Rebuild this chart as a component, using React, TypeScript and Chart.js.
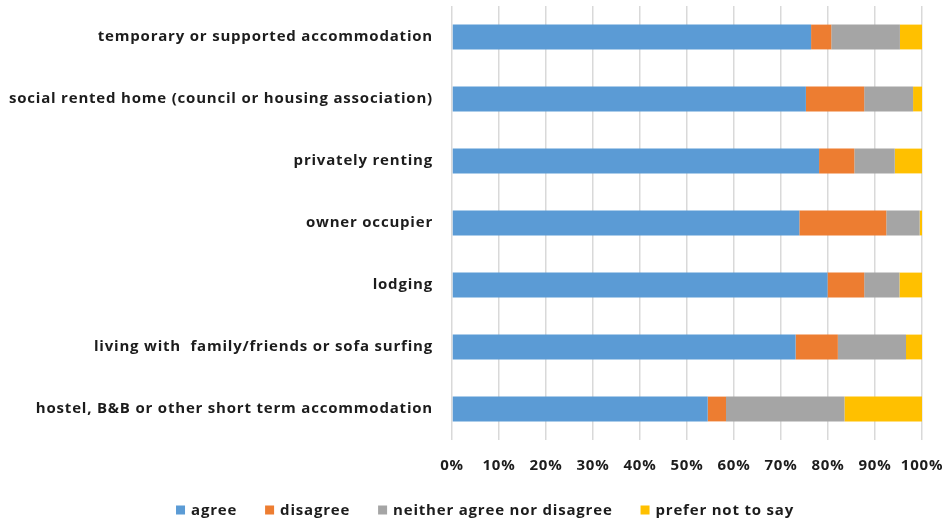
import React, { useEffect, useRef } from "react";
import { Chart, registerables } from "chart.js";

Chart.register(...registerables);

const categories = [
  "temporary or supported accommodation",
  "social rented home (council or housing association)",
  "privately renting",
  "owner occupier",
  "lodging",
  "living with  family/friends or sofa surfing",
  "hostel, B&B or other short term accommodation",
];

const agree = [76.4, 75.3, 78.1, 73.9, 79.9, 73.1, 54.4];
const disagree = [4.3, 12.4, 7.5, 18.5, 7.8, 9.0, 3.9];
const neither = [14.6, 10.4, 8.6, 7.1, 7.5, 14.5, 25.2];
const preferNot = [4.7, 1.9, 5.8, 0.5, 4.8, 3.4, 16.5];

const seriesLabels = ["agree", "disagree", "neither agree nor disagree", "prefer not to say"];
const seriesColors = ["#5B9BD5", "#ED7D31", "#A5A5A5", "#FFC000"];

const FONT_FAMILY = "'Open Sans', Lato, sans-serif";
const FONT_SIZE = 15;
const LETTER_SPACING = "0.8px";
const TEXT_COLOR = "#1c1c1c";

const spacingPlugin = {
  id: "letterSpacing",
  beforeDraw(chart: any) {
    (chart.ctx as any).letterSpacing = LETTER_SPACING;
  },
};

const legendPlugin = {
  id: "customLegend",
  afterDraw(chart: any) {
    const ctx = chart.ctx as CanvasRenderingContext2D;
    ctx.save();
    (ctx as any).letterSpacing = LETTER_SPACING;
    ctx.font = `bold ${FONT_SIZE}px ${FONT_FAMILY}`;
    ctx.textBaseline = "middle";
    ctx.textAlign = "left";
    const box = 9;
    const boxGap = 6;
    const itemGap = 28;
    const items = chart.data.datasets.map((d: any) => ({
      label: d.label as string,
      color: d.backgroundColor as string,
      w: box + boxGap + ctx.measureText(d.label).width,
    }));
    const total = items.reduce((s: number, it: any) => s + it.w, 0) + itemGap * (items.length - 1);
    let x = 485 - total / 2;
    const cy = 510;
    for (const it of items) {
      ctx.fillStyle = it.color;
      ctx.fillRect(x, cy - box / 2, box, box);
      ctx.fillStyle = TEXT_COLOR;
      ctx.fillText(it.label, x + box + boxGap, cy + 1);
      x += it.w + itemGap;
    }
    ctx.restore();
  },
};

export default function App() {
  const ref = useRef<HTMLCanvasElement | null>(null);

  useEffect(() => {
    document.body.style.margin = "0";
    const canvas = ref.current;
    if (!canvas) return;
    const values = [agree, disagree, neither, preferNot];
    const chart = new Chart(canvas, {
      type: "bar",
      data: {
        labels: categories,
        datasets: values.map((v, i) => ({
          label: seriesLabels[i],
          data: v,
          backgroundColor: seriesColors[i],
          borderWidth: 0,
          categoryPercentage: 0.4,
          barPercentage: 1,
        })),
      },
      options: {
        indexAxis: "y",
        animation: false,
        responsive: false,
        layout: { padding: { top: 6, right: 23, left: 0, bottom: 0 } },
        plugins: {
          legend: { display: false },
          tooltip: { enabled: false },
        },
        scales: {
          x: {
            stacked: true,
            min: 0,
            max: 100,
            ticks: {
              stepSize: 10,
              padding: 17,
              color: TEXT_COLOR,
              font: { family: FONT_FAMILY, size: FONT_SIZE, weight: "bold" },
              callback: (v: any) => `${v}%`,
            },
            grid: { color: "#d9d9d9", lineWidth: 1.5, drawTicks: false },
            border: { display: false },
            afterFit: (s: any) => {
              s.height = 82;
              s.paddingLeft = 0;
              s.paddingRight = 0;
              s.paddingTop = 0;
              s.paddingBottom = 0;
            },
          },
          y: {
            stacked: true,
            ticks: {
              padding: 19,
              color: TEXT_COLOR,
              font: { family: FONT_FAMILY, size: FONT_SIZE, weight: "bold" },
            },
            grid: { display: false, drawTicks: false },
            border: { display: false },
            afterFit: (s: any) => {
              s.width = 452;
              s.paddingLeft = 0;
              s.paddingRight = 0;
              s.paddingTop = 0;
              s.paddingBottom = 0;
            },
          },
        },
      } as any,
      plugins: [spacingPlugin, legendPlugin],
    });
    return () => chart.destroy();
  }, []);

  return <canvas ref={ref} width={945} height={522} style={{ display: "block" }} />;
}
